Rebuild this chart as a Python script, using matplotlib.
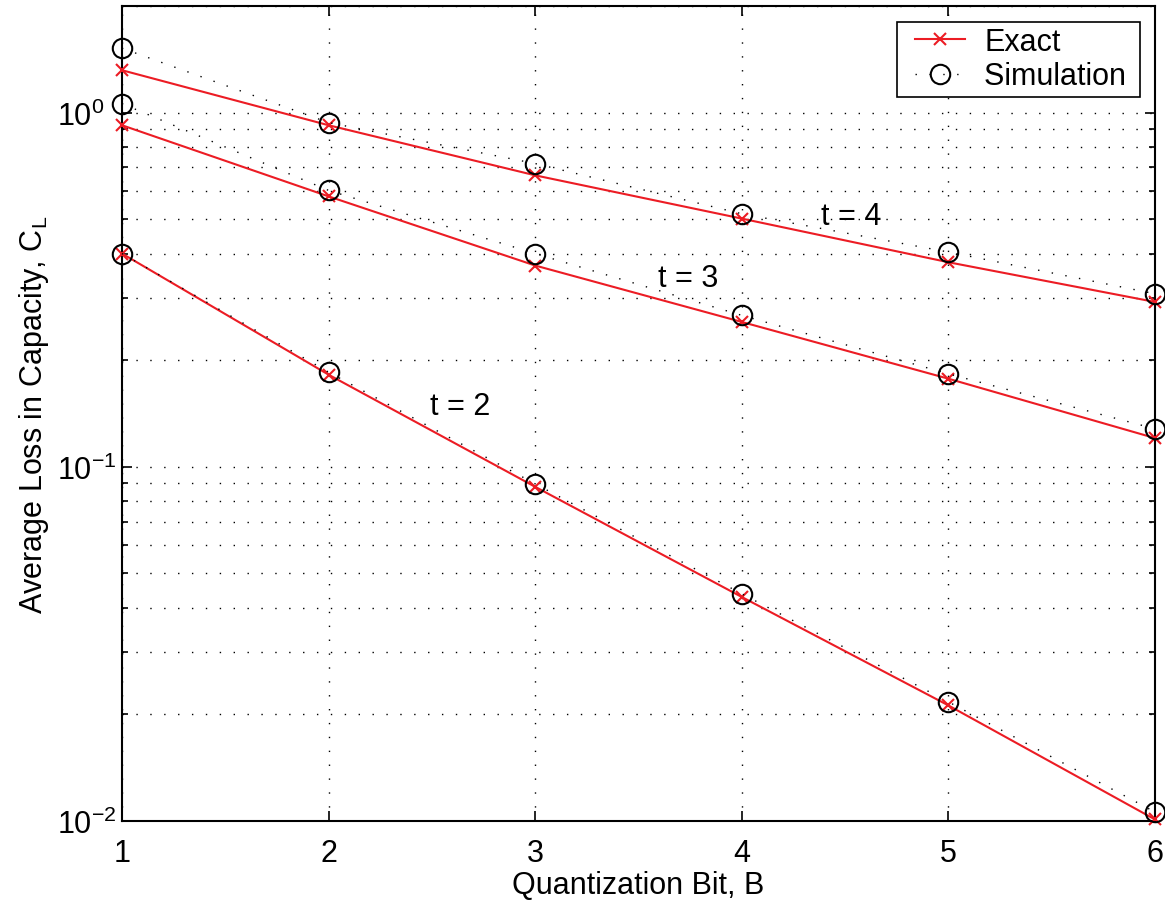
import numpy as np
import matplotlib
matplotlib.use("Agg")
import matplotlib.pyplot as plt
from matplotlib.ticker import LogLocator, NullFormatter
from matplotlib.legend_handler import HandlerLine2D

plt.rcParams['font.family'] = ['Liberation Sans', 'DejaVu Sans']
plt.rcParams['mathtext.default'] = 'regular'

# quantization bits
bits = [1, 2, 3, 4, 5, 6]

# analytical loss (Exact) for t = 2, 3, 4
exact_t2 = [0.400, 0.182, 0.0878, 0.0429, 0.0212, 0.0101]
exact_t3 = [0.921, 0.580, 0.370, 0.2564, 0.1773, 0.1205]
exact_t4 = [1.317, 0.921, 0.665, 0.502, 0.378, 0.292]

# monte-carlo loss (Simulation) for t = 2, 3, 4
sim_t2 = [0.400, 0.185, 0.0895, 0.0438, 0.0217, 0.0106]
sim_t3 = [1.060, 0.603, 0.400, 0.2676, 0.183, 0.128]
sim_t4 = [1.520, 0.937, 0.718, 0.518, 0.404, 0.308]

curve_labels = ['t = 2', 't = 3', 't = 4']
label_x = [2.636, 3.74, 4.528]
label_y = [0.1486, 0.342, 0.512]

red = '#ec1c24'
dot = (0, (1, 9))
fs = 22

fig = plt.figure(figsize=(11.65, 9.03), dpi=100)
ax = fig.add_axes([0.1047, 0.0897, 0.8867, 0.9026])

for i, (ex, sim) in enumerate([(exact_t2, sim_t2), (exact_t3, sim_t3), (exact_t4, sim_t4)]):
    ax.semilogy(bits, ex, color=red, lw=1.5, marker='x', ms=8, mew=1.5,
                label='Exact' if i == 0 else None, zorder=3, clip_on=False)
    ax.semilogy(bits, sim, color='black', lw=1.0, linestyle=dot, marker='o', ms=14,
                mfc='none', mew=1.5, label='Simulation ' if i == 0 else None,
                zorder=4, clip_on=False)

for txt, x, y in zip(curve_labels, label_x, label_y):
    ax.text(x, y, txt, fontsize=fs, ha='center', va='center')

ax.set_xlim(1, 6)
ax.set_ylim(0.01, 2)
ax.set_xticks(bits)
ax.yaxis.set_major_locator(LogLocator(base=10))
ax.yaxis.set_minor_locator(LogLocator(base=10, subs=np.arange(2, 10)))
ax.yaxis.set_minor_formatter(NullFormatter())

ax.grid(True, which='major', axis='both', color='black', lw=1.0, linestyle=dot)
ax.grid(True, which='minor', axis='y', color='black', lw=1.0, linestyle=dot)
ax.set_axisbelow(True)

ax.tick_params(which='both', direction='in', top=True, right=True, labelsize=fs)
ax.tick_params(which='major', length=7, width=1.2)
ax.tick_params(which='minor', length=4, width=1.2)
ax.tick_params(axis='x', pad=12)
ax.tick_params(axis='y', pad=47)
for lab in ax.get_yticklabels():
    lab.set_horizontalalignment('left')
for sp in ax.spines.values():
    sp.set_linewidth(1.5)

ax.set_xlabel('Quantization Bit, B', fontsize=fs, labelpad=2)
ax.set_ylabel('Average Loss in Capacity, $C_L$', fontsize=fs, labelpad=4)

leg = ax.legend(loc='upper right', bbox_to_anchor=(0.9855, 0.9804), borderaxespad=0,
                fontsize=fs, frameon=True, fancybox=False, edgecolor='black',
                framealpha=1, handlelength=2.06, borderpad=0.17, labelspacing=0.14,
                handletextpad=0.62, handler_map={plt.Line2D: HandlerLine2D(xpad=0.4)})
leg.get_frame().set_linewidth(1.2)

fig.savefig('out.png', dpi=100)
